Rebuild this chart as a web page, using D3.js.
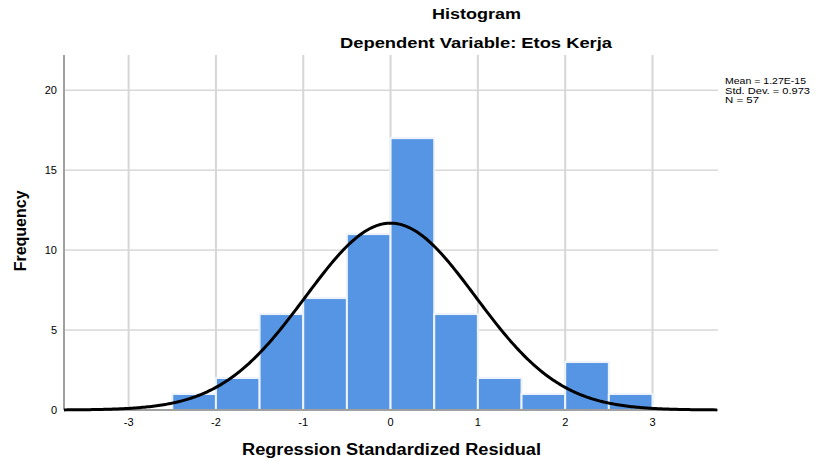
<!DOCTYPE html>
<meta charset="utf-8">
<style>
  body { margin: 0; background: #fff; }
  text { font-family: "Liberation Sans", Arial, sans-serif; }
</style>
<script src="https://d3js.org/d3.v7.min.js"></script>
<div id="my_dataviz"></div>
<script>

// histogram bins (lower edge) and counts
var binStart = [-2.5, -2, -1.5, -1, -0.5, 0, 0.5, 1, 1.5, 2, 2.5];
var binWidth = 0.5;
var counts   = [1, 2, 6, 7, 11, 17, 6, 2, 1, 3, 1];

// stats shown in the legend
var mean = 1.27e-15, stdDev = 0.973, n = 57;
var legendLines = ["Mean = 1.27E-15", "Std. Dev. = 0.973", "N = 57"];

var xTicks = [-3, -2, -1, 0, 1, 2, 3];
var yTicks = [0, 5, 10, 15, 20];

var W = 823, H = 461;
var margin = {top: 55, right: 105, bottom: 51, left: 64},
    width = W - margin.left - margin.right,
    height = H - margin.top - margin.bottom;

var svg = d3.select("#my_dataviz")
  .append("svg")
    .attr("width", W)
    .attr("height", H);

var g = svg.append("g")
    .attr("transform", "translate(" + margin.left + "," + margin.top + ")");

var x = d3.scaleLinear().domain([-3.74, 3.75]).range([0, width]);
var y = d3.scaleLinear().domain([0, 22.2]).range([height, 0]);

// horizontal grid
g.selectAll(".hgrid")
  .data(yTicks.filter(function(d) { return d > 0; }))
  .enter().append("line")
    .attr("x1", 0).attr("x2", width)
    .attr("y1", function(d) { return y(d); })
    .attr("y2", function(d) { return y(d); })
    .attr("stroke", "#c4c4c4").attr("stroke-width", 1);

// vertical grid
g.selectAll(".vgrid")
  .data(xTicks)
  .enter().append("line")
    .attr("x1", function(d) { return x(d); })
    .attr("x2", function(d) { return x(d); })
    .attr("y1", 0).attr("y2", height)
    .attr("stroke", "#d6d6d6").attr("stroke-width", 2);

// bars
g.selectAll("rect")
  .data(counts)
  .enter().append("rect")
    .attr("x", function(d, i) { return x(binStart[i]); })
    .attr("y", function(d) { return y(d); })
    .attr("width", function(d, i) { return x(binStart[i] + binWidth) - x(binStart[i]); })
    .attr("height", function(d) { return height - y(d); })
    .attr("fill", "#5595e3")
    .attr("stroke", "#eef3fb")
    .attr("stroke-width", 2);

// axes lines
g.append("line")
  .attr("x1", 0).attr("x2", 0).attr("y1", 0).attr("y2", height)
  .attr("stroke", "#a0a0a0").attr("stroke-width", 2);
g.append("line")
  .attr("x1", 0).attr("x2", width).attr("y1", height).attr("y2", height)
  .attr("stroke", "#a0a0a0").attr("stroke-width", 2);

// normal curve from the shown stats
var pdf = d3.range(x.domain()[0], x.domain()[1] + 0.001, 0.02).map(function(v) {
  var z = (v - mean) / stdDev;
  return [v, n * binWidth * Math.exp(-0.5 * z * z) / (stdDev * Math.sqrt(2 * Math.PI))];
});
g.append("path")
  .datum(pdf)
  .attr("fill", "none")
  .attr("stroke", "#000")
  .attr("stroke-width", 3)
  .attr("d", d3.line()
    .x(function(d) { return x(d[0]); })
    .y(function(d) { return y(d[1]); }));

// tick labels
g.selectAll(".xl")
  .data(xTicks)
  .enter().append("text")
    .attr("x", function(d) { return x(d); })
    .attr("y", height + 16)
    .attr("text-anchor", "middle")
    .attr("font-size", 11)
    .text(function(d) { return d; });

g.selectAll(".yl")
  .data(yTicks)
  .enter().append("text")
    .attr("x", -7)
    .attr("y", function(d) { return y(d) + 4; })
    .attr("text-anchor", "end")
    .attr("font-size", 11)
    .text(function(d) { return d; });

// titles (source text is horizontally stretched, so fix widths)
svg.append("text")
  .attr("x", 432).attr("y", 19)
  .attr("font-size", 14).attr("font-weight", "bold")
  .attr("textLength", 89).attr("lengthAdjust", "spacingAndGlyphs")
  .text("Histogram");
svg.append("text")
  .attr("x", 340).attr("y", 48)
  .attr("font-size", 14).attr("font-weight", "bold")
  .attr("textLength", 272).attr("lengthAdjust", "spacingAndGlyphs")
  .text("Dependent Variable: Etos Kerja");

svg.append("text")
  .attr("x", 242).attr("y", 455)
  .attr("font-size", 16).attr("font-weight", "bold")
  .attr("textLength", 299).attr("lengthAdjust", "spacingAndGlyphs")
  .text("Regression Standardized Residual");

svg.append("text")
  .attr("transform", "translate(26," + (margin.top + y(11.2)) + ") rotate(-90)")
  .attr("text-anchor", "middle").attr("font-size", 16).attr("font-weight", "bold")
  .text("Frequency");

// legend
svg.selectAll(".leg")
  .data(legendLines)
  .enter().append("text")
    .attr("x", 725)
    .attr("y", function(d, i) { return 84 + i * 9.5; })
    .attr("font-size", 9)
    .attr("textLength", function(d, i) { return [81, 85, 34][i]; })
    .attr("lengthAdjust", "spacingAndGlyphs")
    .text(function(d) { return d; });

</script>
